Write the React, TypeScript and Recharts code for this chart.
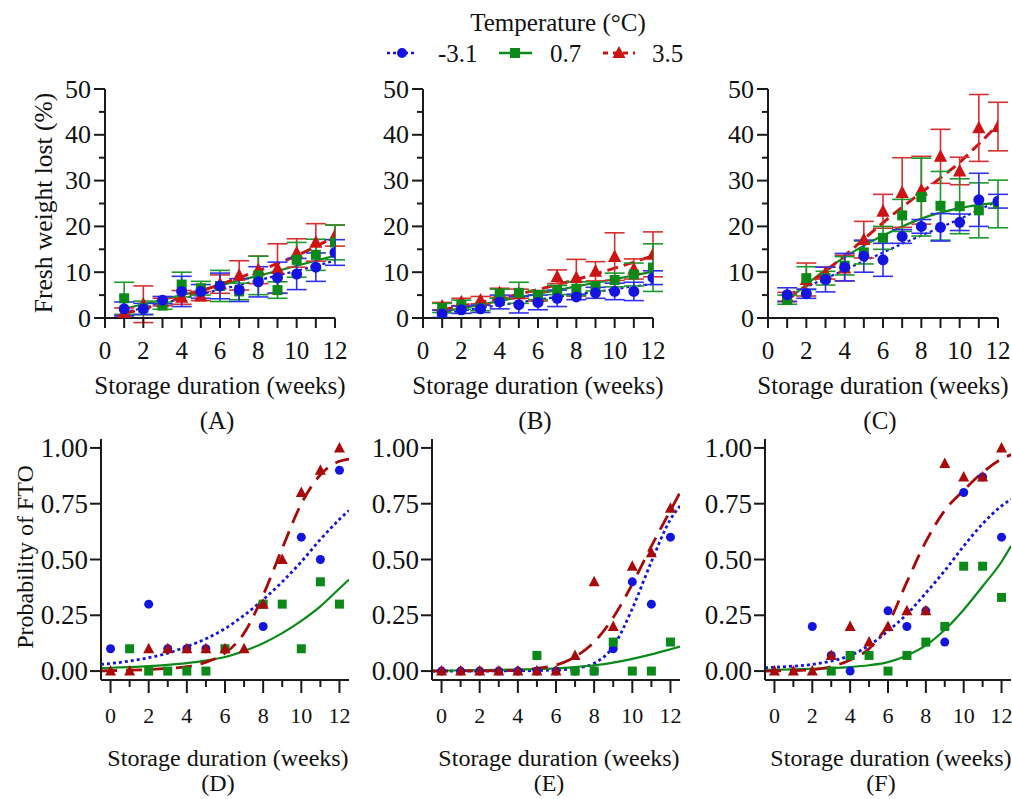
import React from 'react';
import { ComposedChart, Line, XAxis, YAxis, ErrorBar } from 'recharts';

const FONT = 'Liberation Serif';
const AXIS = '#1a1a1a';
const BLUE = '#1414e0';
const GREEN = '#0b8a1a';
const RED = '#cc1414';
const DARK_RED = '#a80a0a';

// x values
const weeks = [1, 2, 3, 4, 5, 6, 7, 8, 9, 10, 11, 12];
const ftoWeeks = [0, 1, 2, 3, 4, 5, 6, 7, 8, 9, 10, 11, 12];
const fitWeeks = [-0.5, 0, 1, 2, 3, 4, 5, 6, 7, 8, 9, 10, 11, 12, 12.5];

// tick labels
const weightTicks = [0, 5, 10, 15, 20, 25, 30, 35, 40, 45, 50];
const probTicks = [0, 0.25, 0.5, 0.75, 1];

// (A) fresh weight lost
const aBlue = [2.0, 2.0, 3.9, 5.8, 5.8, 7.0, 6.1, 7.9, 8.8, 9.6, 11.1, 14.3];
const aBlueErr = [1.5, 1.2, 0.8, 3.3, 1.5, 2.8, 2.5, 3.3, 3.4, 3.4, 3.1, 2.8];
const aGreen = [4.3, 2.2, 2.7, 7.3, 6.5, 7.0, 5.8, 9.3, 6.1, 12.7, 13.8, 16.5];
const aGreenErr = [3.5, 1.5, 0.8, 2.7, 1.5, 3.4, 1.8, 4.2, 1.8, 3.8, 3.4, 3.8];
const aRed = [1.2, 3.0, 3.5, 4.5, 4.8, 7.4, 9.3, 10.5, 10.8, 14.2, 16.5, 18.0];
const aRedErr = [1.0, 4.0, 0.8, 1.5, 1.0, 2.0, 3.2, 3.0, 5.4, 3.1, 4.1, 2.3];
const aBlueFit = [1.2, 2.2, 3.2, 4.2, 5.2, 6.2, 7.2, 8.2, 9.3, 10.3, 11.4, 12.5];
const aGreenFit = [2.0, 3.0, 4.0, 5.0, 6.1, 7.1, 8.2, 9.2, 10.3, 11.4, 12.5, 13.6];
const aRedFit = [1.0, 2.0, 3.2, 4.5, 5.9, 7.3, 8.8, 10.3, 11.9, 13.6, 15.6, 17.8];

// (B)
const bBlue = [0.9, 1.8, 2.0, 3.5, 2.9, 3.4, 4.3, 4.6, 5.5, 5.8, 5.8, 8.8];
const bBlueErr = [0.8, 0.8, 0.8, 1.5, 1.8, 1.6, 1.8, 0.6, 1.2, 1.8, 2.0, 1.5];
const bGreen = [2.2, 2.9, 2.2, 5.3, 5.5, 5.0, 6.1, 6.4, 6.9, 8.3, 9.5, 11.0];
const bGreenErr = [1.0, 1.0, 0.6, 1.0, 2.3, 1.0, 1.0, 1.5, 1.0, 1.5, 2.5, 5.2];
const bRed = [2.6, 3.5, 3.9, 5.5, 5.3, 4.7, 9.0, 8.8, 10.2, 13.4, 10.7, 13.9];
const bRedErr = [0.8, 0.8, 0.8, 1.0, 1.0, 1.0, 1.5, 4.0, 2.1, 5.2, 2.2, 4.9];
const bBlueFit = [1.0, 1.6, 2.2, 2.8, 3.4, 4.0, 4.6, 5.2, 5.7, 6.3, 6.9, 7.4];
const bGreenFit = [1.3, 2.1, 2.9, 3.7, 4.5, 5.3, 6.1, 6.9, 7.7, 8.5, 9.3, 10.1];
const bRedFit = [1.8, 2.6, 3.4, 4.3, 5.2, 6.2, 7.3, 8.4, 9.6, 10.9, 12.2, 13.6];

// (C)
const cBlue = [5.1, 5.3, 8.4, 11.1, 13.5, 12.7, 17.8, 20.0, 19.8, 20.9, 25.8, 25.5];
const cBlueErr = [1.5, 1.0, 2.7, 3.0, 3.5, 3.6, 1.5, 1.5, 3.0, 1.8, 5.8, 1.5];
const cGreen = [4.0, 8.7, 8.7, 11.4, 14.3, 17.5, 22.4, 26.4, 24.5, 24.4, 23.5, 24.9];
const cGreenErr = [1.0, 2.5, 1.5, 2.0, 2.5, 2.5, 3.5, 8.5, 7.5, 6.0, 6.0, 5.2];
const cRed = [4.6, 8.4, 9.8, 10.9, 17.1, 23.3, 27.4, 27.9, 35.3, 32.1, 41.5, 41.8];
const cRedErr = [1.0, 3.6, 1.3, 2.8, 4.0, 3.7, 7.6, 7.4, 5.9, 3.0, 7.3, 5.3];
const cBlueFit = [5.0, 6.8, 8.6, 10.5, 12.4, 14.3, 16.2, 18.0, 19.8, 21.6, 23.6, 25.6];
const cGreenFit = [3.8, 7.3, 10.5, 13.3, 15.8, 18.0, 20.0, 21.7, 23.0, 24.0, 24.7, 25.2];
const cRedFit = [4.0, 7.0, 10.2, 13.6, 17.2, 20.8, 24.2, 27.4, 30.6, 34.0, 38.0, 42.2];

// (D) probability of FTO
const dBlue = [0.1, null, 0.3, 0.1, 0.1, 0.1, null, null, 0.2, null, 0.6, 0.5, 0.9];
const dGreen = [null, 0.1, 0, 0, 0, 0, 0.1, null, 0.3, 0.3, 0.1, 0.4, 0.3];
const dRed = [0, 0, 0.1, 0.1, 0.1, 0.1, 0.1, 0.1, 0.3, 0.5, 0.8, 0.9, 1.0];
const dBlueFit = [0.03, 0.034, 0.045, 0.06, 0.08, 0.11, 0.145, 0.19, 0.25, 0.32, 0.4, 0.49, 0.59, 0.68, 0.72];
const dGreenFit = [0.013, 0.015, 0.018, 0.022, 0.028, 0.036, 0.047, 0.063, 0.09, 0.125, 0.17, 0.225, 0.29, 0.37, 0.41];
const dRedFit = [0.001, 0.002, 0.004, 0.007, 0.012, 0.02, 0.04, 0.08, 0.17, 0.34, 0.55, 0.75, 0.88, 0.94, 0.95];

// (E)
const eBlue = [0, 0, 0, 0, 0, 0, 0, 0, 0, 0.1, 0.4, 0.3, 0.6];
const eGreen = [null, null, null, null, null, 0.07, null, 0, 0, 0.13, 0, 0, 0.13];
const eRed = [0, 0, 0, 0, 0, 0, 0, 0.07, 0.4, 0.2, 0.47, 0.53, 0.73];
const eBlueFit = [0, 0, 0, 0, 0.001, 0.002, 0.003, 0.005, 0.012, 0.035, 0.11, 0.28, 0.49, 0.68, 0.74];
const eGreenFit = [0.002, 0.002, 0.003, 0.004, 0.005, 0.007, 0.009, 0.012, 0.018, 0.026, 0.038, 0.055, 0.075, 0.098, 0.11];
const eRedFit = [0, 0, 0.001, 0.001, 0.002, 0.004, 0.012, 0.027, 0.064, 0.13, 0.24, 0.39, 0.56, 0.72, 0.8];

// (F)
const fBlue = [null, null, 0.2, 0.07, 0, null, 0.27, 0.2, 0.27, 0.13, 0.8, 0.87, 0.6];
const fGreen = [null, null, null, 0, 0.07, 0.07, 0, 0.07, 0.13, 0.2, 0.47, 0.47, 0.33];
const fRed = [0, 0, 0, 0.07, 0.2, 0.13, 0.2, 0.27, 0.27, 0.93, 0.87, 0.87, 1.0];
const fBlueFit = [0.015, 0.017, 0.022, 0.03, 0.045, 0.07, 0.115, 0.18, 0.255, 0.35, 0.45, 0.56, 0.66, 0.74, 0.77];
const fGreenFit = [0.005, 0.006, 0.008, 0.01, 0.013, 0.018, 0.026, 0.04, 0.07, 0.115, 0.185, 0.275, 0.38, 0.49, 0.56];
const fRedFit = [0, 0.001, 0.002, 0.006, 0.02, 0.05, 0.1, 0.21, 0.4, 0.58, 0.72, 0.81, 0.89, 0.95, 0.97];

const weightRows = (bl: number[], blE: number[], gr: number[], grE: number[], rd: number[], rdE: number[],
  blF: number[], grF: number[], rdF: number[]) =>
  weeks.map((x, i) => ({
    x, blue: bl[i], blueErr: blE[i], green: gr[i], greenErr: grE[i], red: rd[i], redErr: rdE[i],
    blueFit: blF[i], greenFit: grF[i], redFit: rdF[i],
  }));

const ftoRows = (bl: any[], gr: any[], rd: any[], blF: number[], grF: number[], rdF: number[]) =>
  fitWeeks.map((x, j) => {
    const i = ftoWeeks.indexOf(x);
    return {
      x,
      blue: i >= 0 ? bl[i] : null,
      green: i >= 0 ? gr[i] : null,
      red: i >= 0 ? rd[i] : null,
      blueFit: blF[j], greenFit: grF[j], redFit: rdF[j],
    };
  });

const marker = (kind: string, s: number, color: string) => (p: any) => {
  const { cx, cy, index } = p;
  const key = `m-${index}`;
  if (typeof cy !== 'number' || isNaN(cy)) return <g key={key} />;
  if (kind === 'circle') return <circle key={key} cx={cx} cy={cy} r={s / 2} fill={color} />;
  if (kind === 'square') return <rect key={key} x={cx - s / 2} y={cy - s / 2} width={s} height={s} fill={color} />;
  const pts = `${cx},${cy - s * 0.6} ${cx - s * 0.55},${cy + s * 0.45} ${cx + s * 0.55},${cy + s * 0.45}`;
  return <polygon key={key} points={pts} fill={color} />;
};

const txt = (x: number, y: number, s: string, size: number, anchor = 'middle', rotate = false) => (
  <text x={x} y={y} textAnchor={anchor as any} dominantBaseline="central"
    transform={rotate ? `rotate(-90 ${x} ${y})` : undefined}
    style={{ fontFamily: FONT, fontSize: size, fill: '#111' }}>{s}</text>
);

const topYTick = (p: any) => {
  const v = p.payload.value;
  const major = v % 10 === 0;
  return (
    <g>
      <line x1={p.x} x2={p.x - (major ? 11 : 6)} y1={p.y} y2={p.y} stroke={AXIS} strokeWidth={2} />
      {major && txt(p.x - 14, p.y, String(v), 26, 'end')}
    </g>
  );
};

const topXTick = (p: any) => {
  const v = p.payload.value;
  return (
    <g>
      <line x1={p.x} x2={p.x} y1={p.y} y2={p.y + 10} stroke={AXIS} strokeWidth={2} />
      {v % 2 === 0 && txt(p.x, p.y + 32, String(v), 25)}
    </g>
  );
};

const botYTick = (p: any) => {
  const v = p.payload.value;
  return (
    <g>
      <line x1={p.x} x2={p.x - 11} y1={p.y} y2={p.y} stroke={AXIS} strokeWidth={2} />
      {txt(p.x - 13, p.y, v.toFixed(2), 27, 'end')}
    </g>
  );
};

const botXTick = (p: any) => {
  const v = p.payload.value;
  const even = v % 2 === 0;
  return (
    <g>
      <line x1={p.x} x2={p.x} y1={p.y} y2={p.y + (even ? 13 : 7)} stroke={AXIS} strokeWidth={2} />
      {even && txt(p.x, p.y + 35, String(v), 22)}
    </g>
  );
};

interface PanelProps {
  x0: number; x1: number; y0: number; y1: number;
  data: any[];
  xDomain: number[]; yDomain: number[];
  xTicks: number[]; yTicks: number[];
  xTick: any; yTick: any;
  top: boolean;
}

const Panel: React.FC<PanelProps> = ({ x0, x1, y0, y1, data, xDomain, yDomain, xTicks, yTicks, xTick, yTick, top }) => {
  const left = x0 - 100;
  const topPx = y0 - 20;
  const width = x1 - x0 + 120;
  const height = y1 - y0 + 70;
  const ms = top ? 11 : 9;
  const redMark = top ? RED : DARK_RED;
  const fits = [
    <Line key="bf" dataKey="blueFit" type="monotone" stroke={BLUE} strokeWidth={top ? 2.2 : 2.8} strokeDasharray="3 3" dot={false} activeDot={false} isAnimationActive={false} />,
    <Line key="gf" dataKey="greenFit" type="monotone" stroke={GREEN} strokeWidth={2.2} dot={false} activeDot={false} isAnimationActive={false} />,
    <Line key="rf" dataKey="redFit" type="monotone" stroke={redMark} strokeWidth={top ? 3 : 2.8} strokeDasharray={top ? '11 6' : '16 9'} dot={false} activeDot={false} isAnimationActive={false} />,
  ];
  const mk = (key: string, kind: string, color: string, errColor: string, size: number) => (
    <Line key={key} dataKey={key} stroke="none" strokeWidth={0} dot={marker(kind, size, color)} activeDot={false} isAnimationActive={false}>
      {top && <ErrorBar dataKey={`${key}Err`} width={10} strokeWidth={1.6} stroke={errColor} direction="y" />}
    </Line>
  );
  const marks = top
    ? [mk('red', 'triangle', RED, '#d83030', ms + 1), mk('green', 'square', GREEN, '#1a9a2a', ms - 1), mk('blue', 'circle', BLUE, '#3030f0', ms)]
    : [mk('blue', 'circle', BLUE, BLUE, ms), mk('green', 'square', GREEN, GREEN, ms), mk('red', 'triangle', DARK_RED, DARK_RED, ms + 1)];
  return (
    <div style={{ position: 'absolute', left, top: topPx, width, height }}>
      <ComposedChart width={width} height={height} data={data} margin={{ top: 20, right: 20, bottom: 0, left: 40 }}>
        <XAxis dataKey="x" type="number" domain={xDomain} ticks={xTicks} interval={0} height={50}
          tickSize={0} tickMargin={0} tickLine={false} tick={xTick}
          axisLine={{ stroke: AXIS, strokeWidth: 2 }} allowDataOverflow />
        <YAxis type="number" domain={yDomain} ticks={yTicks} interval={0} width={60}
          tickSize={0} tickMargin={0} tickLine={false} tick={yTick}
          axisLine={{ stroke: AXIS, strokeWidth: 2 }} allowDataOverflow />
        {fits}
        {marks}
      </ComposedChart>
    </div>
  );
};

const topPanels = [
  { x0: 105, x1: 335, letter: '(A)', data: weightRows(aBlue, aBlueErr, aGreen, aGreenErr, aRed, aRedErr, aBlueFit, aGreenFit, aRedFit) },
  { x0: 423, x1: 653, letter: '(B)', data: weightRows(bBlue, bBlueErr, bGreen, bGreenErr, bRed, bRedErr, bBlueFit, bGreenFit, bRedFit) },
  { x0: 768, x1: 998, letter: '(C)', data: weightRows(cBlue, cBlueErr, cGreen, cGreenErr, cRed, cRedErr, cBlueFit, cGreenFit, cRedFit) },
];

const botPanels = [
  { x0: 101, x1: 349, letter: '(D)', data: ftoRows(dBlue, dGreen, dRed, dBlueFit, dGreenFit, dRedFit) },
  { x0: 432, x1: 680, letter: '(E)', data: ftoRows(eBlue, eGreen, eRed, eBlueFit, eGreenFit, eRedFit) },
  { x0: 765, x1: 1011, letter: '(F)', data: ftoRows(fBlue, fGreen, fRed, fBlueFit, fGreenFit, fRedFit) },
];

const App: React.FC = () => {
  return (
    <div style={{ position: 'absolute', left: 0, top: 0, width: 1012, height: 799, background: '#fff', overflow: 'hidden', fontFamily: FONT }}>
      {topPanels.map(p => (
        <Panel key={p.letter} x0={p.x0} x1={p.x1} y0={89} y1={318} data={p.data}
          xDomain={[0, 12]} yDomain={[0, 50]} xTicks={ftoWeeks} yTicks={weightTicks}
          xTick={topXTick} yTick={topYTick} top />
      ))}
      {botPanels.map(p => (
        <Panel key={p.letter} x0={p.x0} x1={p.x1} y0={439} y1={680} data={p.data}
          xDomain={[-0.5, 12.5]} yDomain={[-0.04, 1.04]} xTicks={ftoWeeks} yTicks={probTicks}
          xTick={botXTick} yTick={botYTick} top={false} />
      ))}
      <svg width={1012} height={799} style={{ position: 'absolute', left: 0, top: 0, pointerEvents: 'none' }}>
        {txt(558, 22, 'Temperature (°C)', 25)}
        <line x1={387} x2={417} y1={53} y2={53} stroke={BLUE} strokeWidth={2.5} strokeDasharray="3 3" />
        <circle cx={402} cy={53} r={5} fill={BLUE} />
        {txt(438, 53, '-3.1', 25, 'start')}
        <line x1={499} x2={532} y1={53} y2={53} stroke={GREEN} strokeWidth={2.5} />
        <rect x={510} y={48} width={10} height={10} fill={GREEN} />
        {txt(550, 53, '0.7', 25, 'start')}
        <line x1={603} x2={635} y1={53} y2={53} stroke={RED} strokeWidth={3} strokeDasharray="5 5" />
        <polygon points="619,46 612.5,58 625.5,58" fill={RED} />
        {txt(652, 53, '3.5', 25, 'start')}
        {txt(43, 203, 'Fresh weight lost (%)', 25.5, 'middle', true)}
        {txt(25, 557, 'Probability of FTO', 24, 'middle', true)}
        {topPanels.map(p => (
          <g key={p.letter}>
            {txt((p.x0 + p.x1) / 2, 385, 'Storage duration (weeks)', 25)}
            {txt((p.x0 + p.x1) / 2 - 3, 420, p.letter, 25)}
          </g>
        ))}
        {botPanels.map(p => (
          <g key={p.letter}>
            {txt((p.x0 + p.x1) / 2 + 3, 758, 'Storage duration (weeks)', 24)}
            {txt((p.x0 + p.x1) / 2 - 7, 783, p.letter, 24)}
          </g>
        ))}
      </svg>
    </div>
  );
};

export default App;
